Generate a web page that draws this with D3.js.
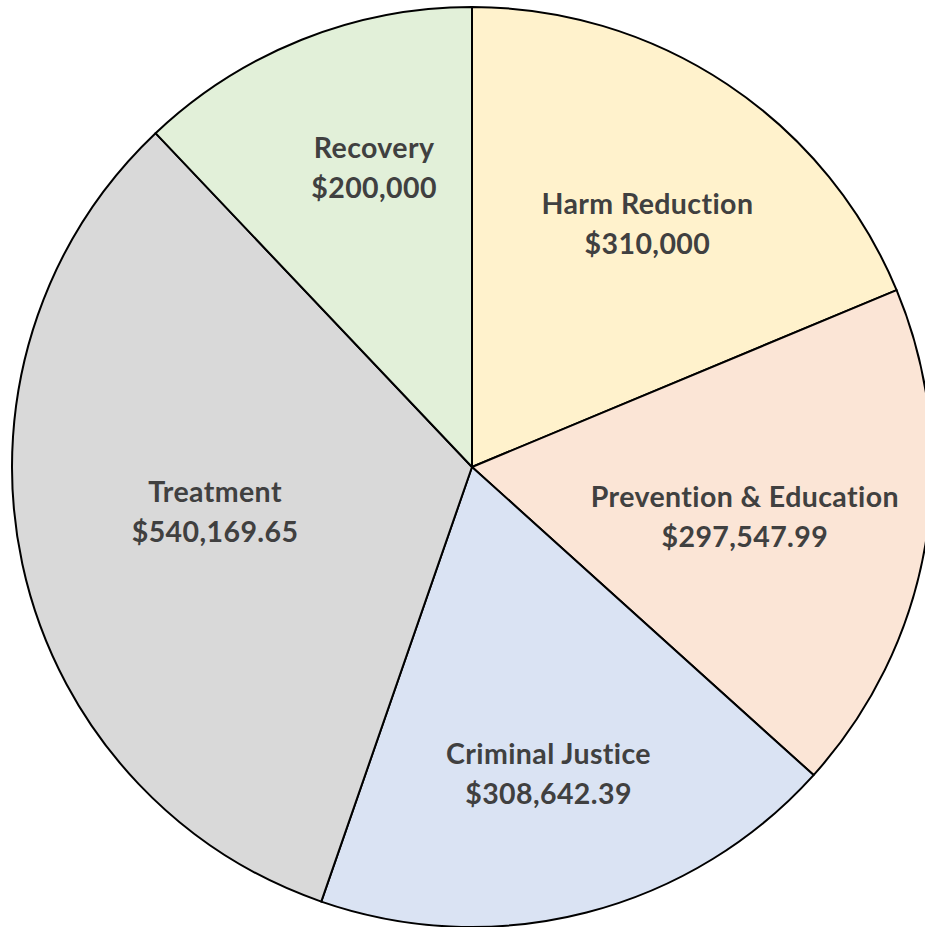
<!DOCTYPE html>
<html>
<head>
<meta charset="utf-8">
<script src="https://cdn.jsdelivr.net/npm/d3@7"></script>
<style>
    html, body { margin: 0; padding: 0; background: #fff; overflow: hidden; }
    svg { display: block; }
</style>
</head>
<body>
<svg id="chart" width="925" height="927"></svg>
<script>
// data, clockwise from 12 o'clock
const categories = ["Harm Reduction", "Prevention & Education", "Criminal Justice", "Treatment", "Recovery"];
const amounts = [310000, 297547.99, 308642.39, 540169.65, 200000];
const amountLabels = ["$310,000", "$297,547.99", "$308,642.39", "$540,169.65", "$200,000"];
const colors = ["#fff2cc", "#fbe5d6", "#dae3f3", "#d9d9d9", "#e2f0d9"];

// label placement (Excel best fit): distance as share of radius, turn off the bisector in degrees
const labelRadius = [0.652, 0.603, 0.687, 0.567, 0.684];
const labelTurn = [2.1, 0.7, 0.4, 2.3, 3.6];

const svg = d3.select("#chart");
const cx = 472, cy = 467, r = 460;

const pie = d3.pie().sort(null).value(d => d.value);
const slices = pie(categories.map((c, i) => ({ name: c, value: amounts[i], label: amountLabels[i], i })));

const arc = d3.arc().innerRadius(0).outerRadius(r);

const g = svg.append("g").attr("transform", `translate(${cx},${cy})`);

g.selectAll("path")
    .data(slices)
    .join("path")
    .attr("d", arc)
    .attr("fill", d => colors[d.data.i])
    .attr("stroke", "#000")
    .attr("stroke-width", 2)
    .attr("stroke-linejoin", "round");

const labels = g.selectAll("text")
    .data(slices)
    .join("text")
    .attr("transform", d => {
        const a = (d.startAngle + d.endAngle) / 2 + labelTurn[d.data.i] * Math.PI / 180;
        const lr = r * labelRadius[d.data.i];
        return `translate(${lr * Math.sin(a)},${-lr * Math.cos(a)})`;
    })
    .attr("text-anchor", "middle")
    .attr("font-family", "Lato, 'Open Sans', sans-serif")
    .attr("font-weight", 700)
    .attr("font-size", 28.5)
    .attr("letter-spacing", 0.4)
    .attr("fill", "#404040");

labels.append("tspan")
    .attr("x", 0).attr("y", -10)
    .text(d => d.data.name);

labels.append("tspan")
    .attr("x", 0).attr("y", 30)
    .text(d => d.data.label);
</script>
</body>
</html>
